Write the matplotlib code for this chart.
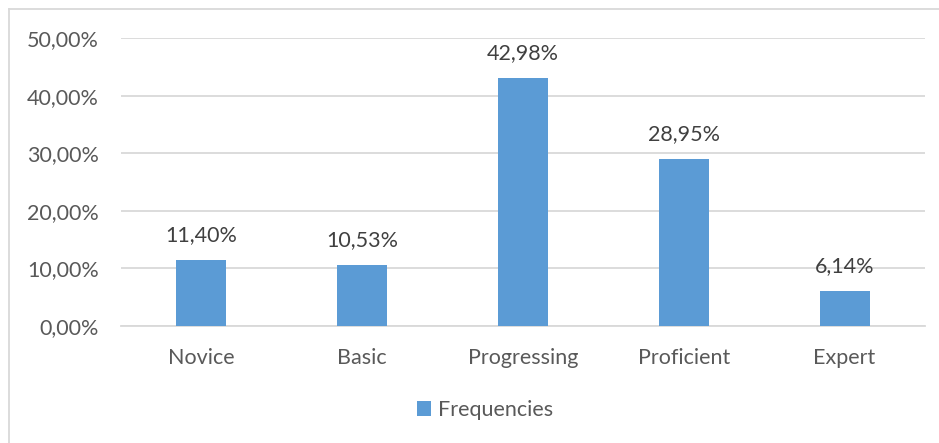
import matplotlib.pyplot as plt
from matplotlib.lines import Line2D
from matplotlib.patches import Patch

# Skill levels and their share of respondents (%)
levels = ['Novice', 'Basic', 'Progressing', 'Proficient', 'Expert']
frequencies = [11.40, 10.53, 42.98, 28.95, 6.14]
y_ticks = [0, 10, 20, 30, 40, 50]

bar_color = '#5B9BD5'
grid_color = '#D9D9D9'
text_color = '#595959'
label_color = '#404040'
fs = 15.5

plt.rcParams['font.family'] = ['Lato', 'DejaVu Sans']

fig = plt.figure(figsize=(9.39, 4.43), dpi=100, facecolor='white')
W, H = 939, 443

# plot area in pixel terms
left, right = 121, 925
top, bottom = 38, 326
ax = fig.add_axes([left / W, 1 - bottom / H, (right - left) / W, (bottom - top) / H])

x = range(len(levels))
ax.bar(x, frequencies, width=0.31, color=bar_color, zorder=3)

for xi, v in zip(x, frequencies):
    ax.annotate(f"{v:.2f}%".replace('.', ','), (xi, v), xytext=(0, 18),
                textcoords='offset points', ha='center', va='center',
                fontsize=fs, color=label_color)

ax.set_xlim(-0.5, len(levels) - 0.5)
ax.set_ylim(0, 50)
ax.set_yticks(y_ticks)
ax.set_yticklabels([f"{t:.2f}%".replace('.', ',') for t in y_ticks],
                   fontsize=fs, color=text_color)
ax.set_xticks(list(x))
ax.set_xticklabels(levels, fontsize=fs, color=text_color)
ax.tick_params(axis='both', length=0)
ax.tick_params(axis='y', pad=16)
ax.tick_params(axis='x', pad=16)

ax.grid(True, axis='y', color=grid_color, linewidth=1.3, zorder=0)
ax.set_axisbelow(True)
for s in ['top', 'right', 'left']:
    ax.spines[s].set_visible(False)
ax.spines['bottom'].set_color(grid_color)
ax.spines['bottom'].set_linewidth(1.3)

# legend below the plot
handle = Patch(facecolor=bar_color, edgecolor='none', label='Frequencies')
fig.legend(handles=[handle], loc='center', bbox_to_anchor=(485 / W, 1 - 410 / H),
           frameon=False, fontsize=fs, handlelength=0.65, handleheight=0.65,
           handletextpad=0.3, labelcolor=text_color)

# chart frame (only top and left edges visible)
fig.add_artist(Line2D([8.5 / W, 1], [1 - 9 / H, 1 - 9 / H], color=grid_color, linewidth=1.3))
fig.add_artist(Line2D([8.5 / W, 8.5 / W], [0, 1 - 9 / H], color=grid_color, linewidth=1.3))

fig.savefig('out.png', dpi=100, facecolor='white')
